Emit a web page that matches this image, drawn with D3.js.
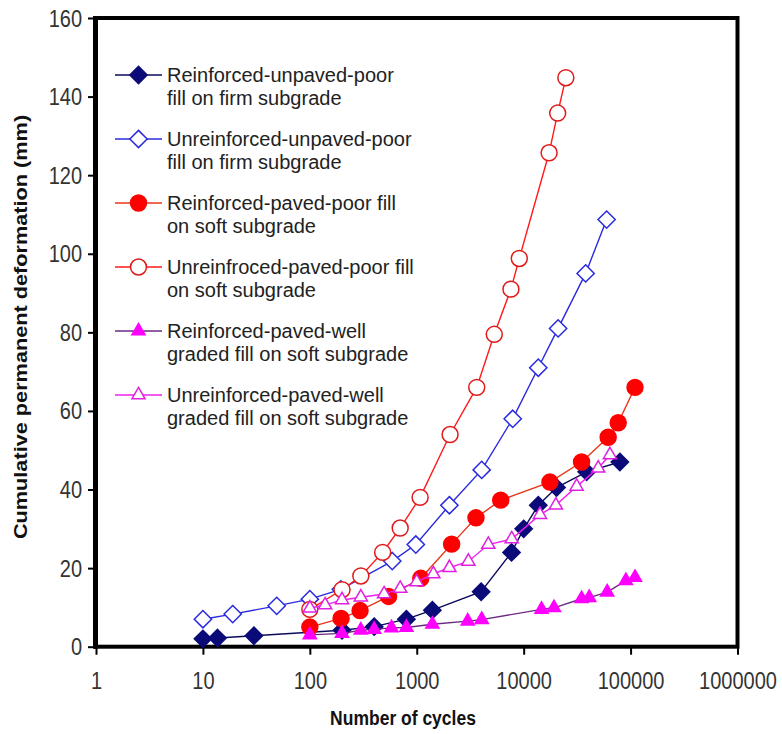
<!DOCTYPE html>
<html>
<head>
<meta charset="utf-8">
<script src="https://cdn.jsdelivr.net/npm/d3@7"></script>
<style>
  html, body { margin: 0; padding: 0; background: #fff; }
  svg { display: block; font-family: Arial, "Liberation Sans", sans-serif; }
</style>
</head>
<body>
<svg id="chart" width="782" height="734"></svg>
<script>
// Cumulative permanent deformation (mm) against number of load cycles
const xTicks = [1, 10, 100, 1000, 10000, 100000, 1000000];
const yTicks = [0, 20, 40, 60, 80, 100, 120, 140, 160];

const reinfUnpavedCycles = [10, 13.7, 30, 200, 400, 800, 1400, 4000, 7700, 10000, 13700, 20300, 38800, 79400];
const reinfUnpavedDef    = [2, 2.2, 2.8, 4.2, 5.1, 7, 9.3, 14, 24, 30, 36, 40.5, 44.5, 47];

const unreinfUnpavedCycles = [10, 19, 49, 100, 195, 590, 980, 2020, 4050, 7900, 13700, 21000, 38000, 59700];
const unreinfUnpavedDef    = [7, 8.3, 10.4, 12.1, 14.6, 21.8, 26, 36, 45, 58, 71, 81, 95, 108.7];

const reinfPavedPoorCycles = [100, 196, 295, 545, 1090, 2120, 3580, 6100, 17600, 34800, 61700, 76600, 110000];
const reinfPavedPoorDef    = [5, 7.2, 9.2, 12.8, 17.4, 26.1, 32.8, 37.3, 41.9, 47, 53.3, 57, 66];

const unreinfPavedPoorCycles = [100, 200, 300, 480, 700, 1075, 2050, 3640, 5310, 7600, 9100, 17300, 20800, 24800];
const unreinfPavedPoorDef    = [9.5, 14.5, 18, 24, 30.2, 38, 54, 66, 79.5, 91, 98.8, 125.7, 135.8, 144.8];

const reinfPavedWellCycles = [100, 200, 300, 400, 580, 800, 1400, 3000, 4050, 14700, 19200, 34800, 41000, 60400, 90400, 110000];
const reinfPavedWellDef    = [3, 3.4, 4.2, 4.4, 4.8, 4.9, 5.7, 6.5, 6.9, 9.5, 9.9, 12.2, 12.5, 13.9, 16.8, 17.6];

const unreinfPavedWellCycles = [100, 139, 200, 300, 495, 700, 1000, 1430, 2020, 3040, 4670, 7730, 14200, 20000, 31300, 49800, 64100];
const unreinfPavedWellDef    = [9.8, 10.6, 11.9, 12.6, 13.4, 14.8, 16.5, 18.5, 20.1, 21.7, 26, 27.4, 33.6, 36, 40.8, 45.4, 48.8];

const seriesNames = [
  ["Reinforced-unpaved-poor", "fill on firm subgrade"],
  ["Unreinforced-unpaved-poor", "fill on firm subgrade"],
  ["Reinforced-paved-poor fill", "on soft subgrade"],
  ["Unreinfroced-paved-poor fill", "on soft subgrade"],
  ["Reinforced-paved-well", "graded fill on soft subgrade"],
  ["Unreinforced-paved-well", "graded fill on soft subgrade"]
];

const series = [
  { name: seriesNames[0], x: reinfUnpavedCycles, y: reinfUnpavedDef,
    line: "#0a0a5a", marker: "diamond", fill: "#0a0a78", stroke: "#0a0a78", size: 190 },
  { name: seriesNames[1], x: unreinfUnpavedCycles, y: unreinfUnpavedDef,
    line: "#2a2ae0", marker: "diamond", fill: "#fff", stroke: "#2a2ae0", size: 190 },
  { name: seriesNames[2], x: reinfPavedPoorCycles, y: reinfPavedPoorDef,
    line: "#e8361a", marker: "circle", fill: "#ff0000", stroke: "#ff0000", size: 200 },
  { name: seriesNames[3], x: unreinfPavedPoorCycles, y: unreinfPavedPoorDef,
    line: "#ff1a1a", marker: "circle", fill: "#fff", stroke: "#e01a1a", size: 200 },
  { name: seriesNames[4], x: reinfPavedWellCycles, y: reinfPavedWellDef,
    line: "#6a2a80", marker: "triangle", fill: "#ff00ff", stroke: "#ff00ff", size: 75 },
  { name: seriesNames[5], x: unreinfPavedWellCycles, y: unreinfPavedWellDef,
    line: "#ee20ee", marker: "triangle", fill: "#fff", stroke: "#e020e0", size: 75 }
];

const svg = d3.select("#chart");
const plot = { left: 96, top: 18, right: 737.5, bottom: 646.7 };
const FONT = "Arial, 'Liberation Sans', sans-serif";
const STRETCH = 1.15;   // tick glyphs are drawn slightly taller than wide

const x = d3.scaleLog().domain([1, 1000000]).range([plot.left, plot.right]);
const y = d3.scaleLinear().domain([0, 160]).range([plot.bottom, plot.top]);

const symbolType = { diamond: d3.symbolDiamond2, circle: d3.symbolCircle, triangle: d3.symbolTriangle };

// Axes
const xAxis = d3.axisBottom(x).tickValues(xTicks).tickFormat(d3.format("d")).tickSize(8).tickSizeOuter(0);
const yAxis = d3.axisLeft(y).tickValues(yTicks).tickSize(8).tickSizeOuter(0);

const gx = svg.append("g").attr("transform", `translate(0,${plot.bottom})`).call(xAxis);
const gy = svg.append("g").attr("transform", `translate(${plot.left},0)`).call(yAxis);

[gx, gy].forEach(g => {
  g.select(".domain").remove();
  g.selectAll(".tick line").attr("stroke", "#000").attr("stroke-width", 2);
  g.selectAll(".tick text")
    .attr("fill", "#333").style("font-size", "20px").style("font-family", FONT)
    .attr("x", 0).attr("y", 0).attr("dy", null);
});
gx.selectAll(".tick text").attr("transform", `translate(0,42) scale(1,${STRETCH})`);
gy.selectAll(".tick text").attr("transform", `translate(-14,8) scale(1,${STRETCH})`);

// Plot frame
svg.append("rect")
  .attr("x", plot.left).attr("y", plot.top)
  .attr("width", plot.right - plot.left).attr("height", plot.bottom - plot.top)
  .attr("fill", "none").attr("stroke", "#000").attr("stroke-width", 4);
svg.append("line")
  .attr("x1", plot.left - 0.5).attr("x2", plot.left - 0.5)
  .attr("y1", plot.top - 2).attr("y2", plot.bottom + 2)
  .attr("stroke", "#000").attr("stroke-width", 5);

// Axis titles
svg.append("text")
  .attr("transform", `translate(403,725) scale(1,1.2)`)
  .attr("text-anchor", "middle").attr("font-weight", "bold").attr("font-size", 17.5).attr("fill", "#111")
  .text("Number of cycles");

svg.append("text")
  .attr("transform", `translate(27,327) rotate(-90) scale(1.24,1)`)
  .attr("text-anchor", "middle").attr("font-weight", "bold").attr("font-size", 17.5).attr("fill", "#111")
  .text("Cumulative permanent deformation (mm)");

// Series lines and markers
const line = d3.line().x(d => x(d[0])).y(d => y(d[1]));

series.forEach(s => {
  const pts = s.x.map((v, i) => [v, s.y[i]]);
  const g = svg.append("g");
  g.append("path").datum(pts)
    .attr("d", line).attr("fill", "none").attr("stroke", s.line).attr("stroke-width", 1.4);
  g.selectAll("path.pt").data(pts).join("path")
    .attr("class", "pt")
    .attr("transform", d => `translate(${x(d[0])},${y(d[1])})`)
    .attr("d", d3.symbol().type(symbolType[s.marker]).size(s.size))
    .attr("fill", s.fill).attr("stroke", s.stroke).attr("stroke-width", 1.5);
});

// Legend: one two-line label per series
const legend = svg.append("g");
const legendTop = 75, legendStep = 64, lineGap = 23;
series.forEach((s, i) => {
  const ly = legendTop + i * legendStep;
  legend.append("line").attr("x1", 115).attr("x2", 162).attr("y1", ly).attr("y2", ly)
    .attr("stroke", s.line).attr("stroke-width", 1.4);
  legend.append("path")
    .attr("transform", `translate(138.5,${ly})`)
    .attr("d", d3.symbol().type(symbolType[s.marker]).size(s.size))
    .attr("fill", s.fill).attr("stroke", s.stroke).attr("stroke-width", 1.5);
  const label = legend.append("text")
    .attr("font-size", 20).attr("fill", "#222");
  s.name.forEach((t, k) => {
    label.append("tspan").attr("x", 167).attr("y", ly + 7 + k * lineGap).text(t);
  });
});
</script>
</body>
</html>
